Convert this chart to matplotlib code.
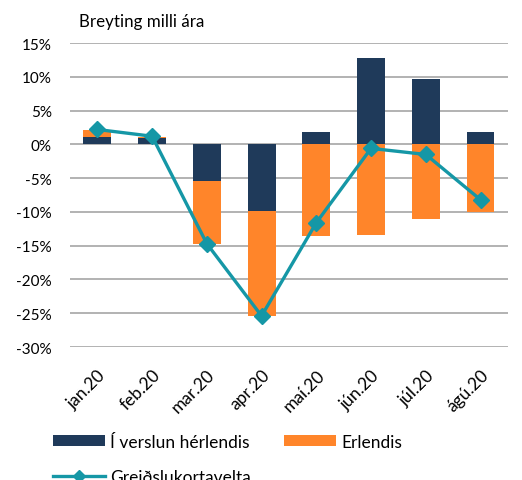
import numpy as np
import matplotlib.pyplot as plt
from matplotlib.ticker import FuncFormatter

plt.rcParams['font.family'] = ['Lato', 'DejaVu Sans']

# ------------------------------------------------
# Data (% change year on year)
# ------------------------------------------------
months    = ['jan.20', 'feb.20', 'mar.20', 'apr.20', 'maí.20', 'jún.20', 'júl.20', 'ágú.20']
innlent   = [1.1, 1.0, -5.4, -9.9, 1.9, 12.8, 9.7, 1.85]       # Í verslun hérlendis
erlendis  = [1.0, 0.15, -9.3, -15.5, -13.5, -13.4, -11.1, -10.0]  # Erlendis
heild     = [2.2, 1.2, -14.7, -25.4, -11.6, -0.6, -1.5, -8.2]   # Greiðslukortavelta

navy   = '#1f3a5a'
orange = '#ff852a'
teal   = '#1597a6'

x = np.arange(len(months))
innlent = np.array(innlent)
erlendis = np.array(erlendis)

# Excel-style stacking: positives stack up, negatives stack down
bottom_er = np.where(np.sign(erlendis) == np.sign(innlent), innlent, 0.0)

fig = plt.figure(figsize=(5.22, 4.81), dpi=100)
ax = fig.add_axes([0.134, 0.2765, 0.839, 0.632])

ax.bar(x, innlent, width=0.51, color=navy, label='Í verslun hérlendis', zorder=3)
ax.bar(x, erlendis, width=0.51, bottom=bottom_er, color=orange, label='Erlendis', zorder=3)
ax.plot(x, heild, color=teal, lw=2.4, marker='D', markersize=8, label='Greiðslukortavelta', zorder=4)

ax.set_ylim(-30, 15)
ax.set_xlim(-0.5, len(months) - 0.5)
ax.set_yticks(np.arange(-30, 16, 5))
ax.yaxis.set_major_formatter(FuncFormatter(lambda v, p: f'{v:.0f}%'))
ax.grid(axis='y', color='#a6a6a6', lw=1.2, zorder=0)
for s in ax.spines.values():
    s.set_visible(False)
ax.tick_params(length=0, colors='black')
ax.tick_params(axis='y', pad=13, labelsize=11)
ax.set_xticks(x)
ax.set_xticklabels(months, rotation=45, ha='right', rotation_mode='anchor')
ax.tick_params(axis='x', pad=14, labelsize=12.5)

fig.text(0.151, 0.955, 'Breyting milli ára', fontsize=12.2, va='center')

h, l = ax.get_legend_handles_labels()
# order so row 1 = bars, row 2 = line (column-major fill)
order = [1, 0, 2]
fig.legend([h[i] for i in order], [l[i] for i in order], ncol=2,
           loc='upper left', bbox_to_anchor=(0.1015, 0.096), frameon=False,
           borderpad=0, borderaxespad=0, fontsize=12.5, handlelength=3.0,
           handleheight=0.55, columnspacing=1.9, labelspacing=1.1,
           handletextpad=0.3, markerscale=0.8)

fig.savefig('out.png', dpi=100)
